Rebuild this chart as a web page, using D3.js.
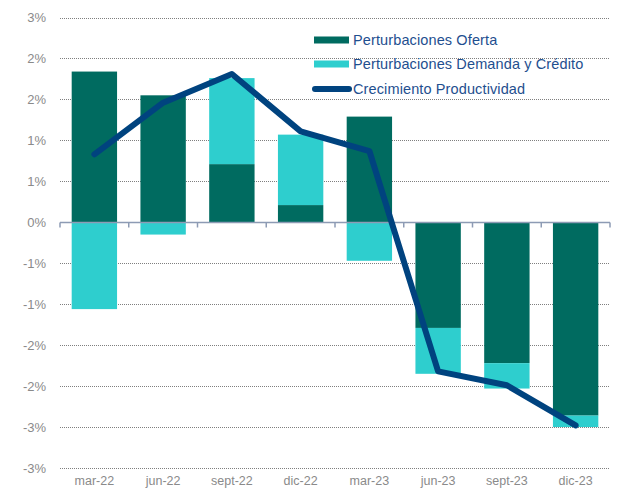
<!DOCTYPE html>
<html>
<head>
<meta charset="utf-8">
<script src="https://cdn.jsdelivr.net/npm/d3@7"></script>
<style>
  body { margin: 0; background: #fff; }
  svg { display: block; font-family: "Liberation Sans", Arial, sans-serif; }
</style>
</head>
<body>
<svg id="chart" width="627" height="490"></svg>
<script>
// data (percent)
var categories = ["mar-22", "jun-22", "sept-22", "dic-22", "mar-23", "jun-23", "sept-23", "dic-23"];
var oferta = [1.84, 1.55, 0.71, 0.21, 1.29, -1.29, -1.72, -2.36];
var demanda = [-1.06, -0.15, 1.05, 0.86, -0.47, -0.56, -0.31, -0.14];
var productividad = [0.83, 1.46, 1.81, 1.11, 0.87, -1.82, -1.99, -2.48];
var yTicks = [2.5, 2, 1.5, 1, 0.5, 0, -0.5, -1, -1.5, -2, -2.5, -3];
var seriesNames = ["Perturbaciones Oferta", "Perturbaciones Demanda y Crédito", "Crecimiento Productividad"];

var colOferta = "#006b60";
var colDemanda = "#2ecece";
var colLine = "#00437f";

var svg = d3.select("#chart");
// note: "top" is taken by window.top, so use plot* names
var plotLeft = 60, plotRight = 610, plotTop = 17.5, plotBottom = 468;

var x = d3.scaleBand().domain(categories).range([plotLeft, plotRight]).paddingInner(0.34).paddingOuter(0.17);
var y = d3.scaleLinear().domain([-3, 2.5]).range([plotBottom, plotTop]);

// Excel style rounding of the labels (2.5 -> 3%, -0.5 -> -1%)
function fmt(v) {
  var r = Math.sign(v) * Math.round(Math.abs(v));
  return r + "%";
}

// dotted gridlines
svg.append("g")
  .selectAll("line")
  .data(yTicks.filter(d => d != 0))
  .join("line")
  .attr("x1", plotLeft).attr("x2", plotRight)
  .attr("y1", d => Math.round(y(d)) + 0.5).attr("y2", d => Math.round(y(d)) + 0.5)
  .attr("stroke", "#7f7f7f")
  .attr("stroke-width", 1)
  .attr("stroke-dasharray", "1,1");

// y labels
svg.append("g")
  .selectAll("text")
  .data(yTicks)
  .join("text")
  .attr("x", 46)
  .attr("y", d => y(d))
  .attr("dy", "0.36em")
  .attr("text-anchor", "end")
  .attr("font-size", 13)
  .attr("fill", "#8a8a8a")
  .text(fmt);

// stacked bars: positives stack up from zero, negatives down
function stackBase(i, which) {
  var o = oferta[i], dm = demanda[i];
  if (which == 0) return [0, o];
  if ((o >= 0) == (dm >= 0)) return [o, o + dm];
  return [0, dm];
}

var bars = svg.append("g");
categories.forEach(function (c, i) {
  [[0, colOferta], [1, colDemanda]].forEach(function (s) {
    var ext = stackBase(i, s[0]);
    bars.append("rect")
      .attr("x", x(c))
      .attr("width", x.bandwidth())
      .attr("y", y(Math.max(ext[0], ext[1])))
      .attr("height", Math.abs(y(ext[0]) - y(ext[1])))
      .attr("fill", s[1]);
  });
});

// x axis line at zero with tick marks at band edges
var y0 = Math.round(y(0)) + 0.5;
var axis = svg.append("g").attr("stroke", "#8d9bb4").attr("stroke-width", 1.5);
axis.append("line").attr("x1", plotLeft).attr("x2", plotRight).attr("y1", y0).attr("y2", y0);
var edges = categories.map(c => x(c) - x.step() * x.paddingInner() / 2);
edges.push(plotRight);
axis.selectAll(".tk")
  .data(edges)
  .join("line")
  .attr("x1", d => d).attr("x2", d => d)
  .attr("y1", y0).attr("y2", y0 + 5);

// category labels
svg.append("g")
  .selectAll("text")
  .data(categories)
  .join("text")
  .attr("x", d => x(d) + x.bandwidth() / 2)
  .attr("y", 485)
  .attr("text-anchor", "middle")
  .attr("font-size", 12.5)
  .attr("fill", "#8a8a8a")
  .text(d => d);

// productivity line
var line = d3.line()
  .x((d, i) => x(categories[i]) + x.bandwidth() / 2)
  .y(d => y(d));

svg.append("path")
  .datum(productividad)
  .attr("d", line)
  .attr("fill", "none")
  .attr("stroke", colLine)
  .attr("stroke-width", 6)
  .attr("stroke-linejoin", "round")
  .attr("stroke-linecap", "round");

// legend
var legend = svg.append("g");
var rows = [40, 64, 89];
legend.append("rect").attr("x", 314).attr("y", rows[0] - 3.5).attr("width", 35).attr("height", 7).attr("fill", colOferta);
legend.append("rect").attr("x", 314).attr("y", rows[1] - 3.5).attr("width", 35).attr("height", 7).attr("fill", colDemanda);
legend.append("line").attr("x1", 315).attr("x2", 349).attr("y1", rows[2]).attr("y2", rows[2])
  .attr("stroke", colLine).attr("stroke-width", 6).attr("stroke-linecap", "round");
legend.selectAll("text")
  .data(seriesNames)
  .join("text")
  .attr("x", 353)
  .attr("y", (d, i) => rows[i])
  .attr("dy", "0.36em")
  .attr("font-size", 14.5)
  .attr("letter-spacing", 0.12)
  .attr("fill", "#1f4f8f")
  .text(d => d);
</script>
</body>
</html>
